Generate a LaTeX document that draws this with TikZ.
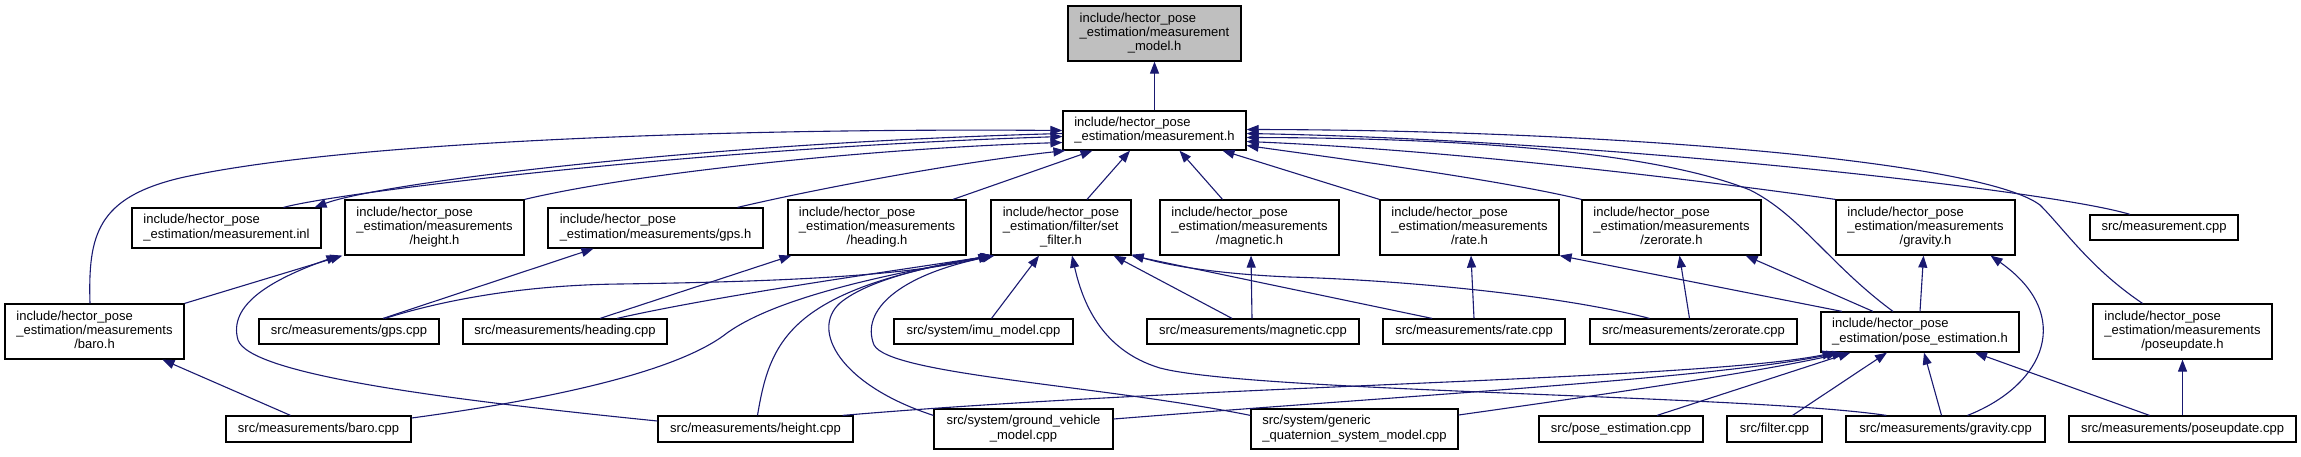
\documentclass[tikz,border=0pt]{standalone}
\usepackage{fontspec}
\setmainfont{Liberation Sans}
\usetikzlibrary{arrows.meta,calc}
\definecolor{edgeblue}{HTML}{191970}
\definecolor{boxgray}{HTML}{BFBFBF}
\newcommand{\hp}{include/hector\_pose}
\newcommand{\Lt}[2]{\begin{tabular}{@{}l@{}}#1\\#2\end{tabular}}
\newcommand{\Lc}[2]{\begin{tabular}{@{}l@{}}#1\\\multicolumn{1}{@{}c@{}}{#2}\end{tabular}}
\newcommand{\Llc}[3]{\begin{tabular}{@{}l@{}}#1\\#2\\\multicolumn{1}{@{}c@{}}{#3}\end{tabular}}
\begin{document}
\begin{tikzpicture}[x=1pt,y=-1pt,
  fbox/.style={draw=black,line width=1.2pt,inner sep=0pt,fill=white,font=\fontsize{13}{14.3}\selectfont},
  dep/.style={draw=edgeblue,line width=1.1pt,-{Triangle[length=12pt,width=9pt,fill=edgeblue]}}]
\useasboundingbox (0,0) rectangle (2301,456);
% row 1
\node[fbox,fill=boxgray,minimum width=173pt,minimum height=55pt] (model_h) at (1154.5,33.5) {\Llc{\hp}{\_estimation/measurement}{\_model.h}};
% row 2
\node[fbox,minimum width=183pt,minimum height=39pt] (meas_h) at (1154.5,130.5) {\Lt{\hp}{\_estimation/measurement.h}};
% row 3
\node[fbox,minimum width=189pt,minimum height=40pt] (inl) at (226.5,228) {\Lt{\hp}{\_estimation/measurement.inl}};
\node[fbox,minimum width=179pt,minimum height=55pt] (height_h) at (434.5,227.5) {\Llc{\hp}{\_estimation/measurements}{/height.h}};
\node[fbox,minimum width=215pt,minimum height=40pt] (gps_h) at (655.5,228) {\Lt{\hp}{\_estimation/measurements/gps.h}};
\node[fbox,minimum width=178pt,minimum height=55pt] (heading_h) at (877,227.5) {\Llc{\hp}{\_estimation/measurements}{/heading.h}};
\node[fbox,minimum width=140pt,minimum height=55pt] (setfilter) at (1061,227.5) {\Llc{\hp}{\_estimation/filter/set}{\_filter.h}};
\node[fbox,minimum width=179pt,minimum height=55pt] (magnetic_h) at (1249.5,227.5) {\Llc{\hp}{\_estimation/measurements}{/magnetic.h}};
\node[fbox,minimum width=179pt,minimum height=55pt] (rate_h) at (1469.5,227.5) {\Llc{\hp}{\_estimation/measurements}{/rate.h}};
\node[fbox,minimum width=179pt,minimum height=55pt] (zerorate_h) at (1671.5,227.5) {\Llc{\hp}{\_estimation/measurements}{/zerorate.h}};
\node[fbox,minimum width=179pt,minimum height=55pt] (gravity_h) at (1925.5,227.5) {\Llc{\hp}{\_estimation/measurements}{/gravity.h}};
\node[fbox,minimum width=148pt,minimum height=25pt] (meas_cpp) at (2164,227.5) {src/measurement.cpp};
% row 4
\node[fbox,minimum width=179pt,minimum height=55pt] (baro_h) at (94.5,331.5) {\Llc{\hp}{\_estimation/measurements}{/baro.h}};
\node[fbox,minimum width=180pt,minimum height=25pt] (gps_cpp) at (349,331.5) {src/measurements/gps.cpp};
\node[fbox,minimum width=204pt,minimum height=25pt] (heading_cpp) at (565,331.5) {src/measurements/heading.cpp};
\node[fbox,minimum width=179pt,minimum height=25pt] (imu_cpp) at (983.5,331.5) {src/system/imu\_model.cpp};
\node[fbox,minimum width=212pt,minimum height=25pt] (magnetic_cpp) at (1253,331.5) {src/measurements/magnetic.cpp};
\node[fbox,minimum width=182pt,minimum height=25pt] (rate_cpp) at (1474,331.5) {src/measurements/rate.cpp};
\node[fbox,minimum width=207pt,minimum height=25pt] (zerorate_cpp) at (1693.5,331.5) {src/measurements/zerorate.cpp};
\node[fbox,minimum width=198pt,minimum height=40pt] (pe_h) at (1920,332) {\Lt{\hp}{\_estimation/pose\_estimation.h}};
\node[fbox,minimum width=179pt,minimum height=55pt] (poseupdate_h) at (2182.5,331.5) {\Llc{\hp}{\_estimation/measurements}{/poseupdate.h}};
% row 5
\node[fbox,minimum width=185pt,minimum height=26pt] (baro_cpp) at (318.5,429) {src/measurements/baro.cpp};
\node[fbox,minimum width=195pt,minimum height=26pt] (height_cpp) at (755.5,429) {src/measurements/height.cpp};
\node[fbox,minimum width=179pt,minimum height=40pt] (gv_cpp) at (1023.5,429) {\Lc{src/system/ground\_vehicle}{\_model.cpp}};
\node[fbox,minimum width=207pt,minimum height=40pt] (gq_cpp) at (1354.5,429) {\Lt{src/system/generic}{\_quaternion\_system\_model.cpp}};
\node[fbox,minimum width=164pt,minimum height=26pt] (pe_cpp) at (1621,429) {src/pose\_estimation.cpp};
\node[fbox,minimum width=95pt,minimum height=26pt] (filter_cpp) at (1774.5,429) {src/filter.cpp};
\node[fbox,minimum width=199pt,minimum height=26pt] (gravity_cpp) at (1945.5,429) {src/measurements/gravity.cpp};
\node[fbox,minimum width=227pt,minimum height=26pt] (poseupdate_cpp) at (2182.5,429) {src/measurements/poseupdate.cpp};

% edges into measurement_model.h
\draw[dep] (meas_h.north) -- (model_h.south);
% edges into measurement.h
\draw[dep] ($(inl.north)+(57,0)$) .. controls (340,192) and (700,148) .. ($(meas_h.west)+(0,6)$);
\draw[dep] ($(meas_h.west)+(0,3)$) .. controls (700,143) and (380,183) .. ($(inl.north)+(88,0)$);
\draw[dep] ($(baro_h.north)+(-4.5,0)$) .. controls (88,235) and (97,198) .. (180,178) .. controls (350,140) and (750,128) .. (meas_h.west);
\draw[dep] (height_h.north east) .. controls (640,172) and (880,148) .. ($(meas_h.west)+(0,12)$);
\draw[dep] ($(gps_h.north)+(82,0)$) .. controls (820,188) and (960,162) .. ($(meas_h.south west)+(3,0)$);
\draw[dep] ($(heading_h.north)+(76,0)$) -- ($(meas_h.south)+(-62,0)$);
\draw[dep] ($(setfilter.north)+(26,0)$) -- ($(meas_h.south)+(-24.5,0)$);
\draw[dep] ($(magnetic_h.north)+(-27,0)$) -- ($(meas_h.south)+(25,0)$);
\draw[dep] (rate_h.north west) -- ($(meas_h.south)+(68,0)$);
\draw[dep] (zerorate_h.north west) .. controls (1500,180) and (1350,160) .. ($(meas_h.east)+(0,15)$);
\draw[dep] (gravity_h.north west) .. controls (1700,180) and (1450,150) .. ($(meas_h.east)+(0,11)$);
\draw[dep] ($(pe_h.north)+(-27,0)$) .. controls (1830,265) and (1800,215) .. (1750,190) .. controls (1650,150) and (1450,138) .. ($(meas_h.east)+(0,7)$);
\draw[dep] ($(meas_cpp.north)+(-34,0)$) .. controls (2050,190) and (1600,140) .. ($(meas_h.east)+(0,3)$);
\draw[dep] ($(poseupdate_h.north)+(-40,0)$) .. controls (2090,268) and (2065,230) .. (2040,205) .. controls (1980,160) and (1600,130) .. ($(meas_h.east)+(0,-1)$);
% baro / height / gps / heading
\draw[dep] ($(baro_cpp.north)+(-28,0)$) -- ($(baro_h.south)+(68,0)$);
\draw[dep] (baro_h.north east) -- ($(height_h.south west)+(-2,0)$);
\draw[dep] ($(height_cpp.west)+(0,-8)$) .. controls (450,400) and (250,375) .. (238,340) .. controls (228,305) and (270,280) .. ($(height_h.south west)+(-6,0)$);
\draw[dep] ($(gps_cpp.north)+(34,0)$) -- ($(gps_h.south)+(-62,0)$);
\draw[dep] ($(heading_cpp.north)+(35,0)$) -- ($(heading_h.south west)+(4,0)$);
% into set_filter.h
\draw[dep] ($(gps_cpp.north)+(36,0)$) .. controls (450,298) and (530,285) .. (620,284) .. controls (750,282) and (900,278) .. (setfilter.south west);
\draw[dep] ($(heading_cpp.north)+(52,0)$) .. controls (720,295) and (900,270) .. ($(setfilter.south west)+(2,0)$);
\draw[dep] ($(baro_cpp.east)+(0,-11)$) .. controls (560,398) and (680,370) .. (727,333) .. controls (780,295) and (900,272) .. ($(setfilter.south west)+(3,0)$);
\draw[dep] ($(height_cpp.north)+(2,0)$) .. controls (770,340) and (790,290) .. ($(setfilter.south west)+(2,0)$);
\draw[dep] ($(gv_cpp.north west)+(0,7)$) .. controls (840,385) and (810,330) .. (840,303) .. controls (870,278) and (940,264) .. ($(setfilter.south west)+(3,0)$);
\draw[dep] ($(gq_cpp.north west)+(0,7)$) .. controls (1100,385) and (890,375) .. (874,345) .. controls (860,310) and (900,275) .. ($(setfilter.south west)+(4,0)$);
\draw[dep] ($(imu_cpp.north)+(8,0)$) -- ($(setfilter.south)+(-22,0)$);
\draw[dep] ($(magnetic_cpp.north)+(-21,0)$) -- ($(setfilter.south east)+(-18,0)$);
\draw[dep] ($(rate_cpp.north)+(-42,0)$) -- (setfilter.south east);
\draw[dep] ($(zerorate_cpp.north)+(-44,0)$) .. controls (1560,295) and (1400,280) .. (1290,277) .. controls (1220,274) and (1170,266) .. ($(setfilter.south east)+(0,-1)$);
\draw[dep] ($(gravity_cpp.north west)+(41,0)$) .. controls (1750,395) and (1250,392) .. (1160,368) .. controls (1100,350) and (1082,300) .. ($(setfilter.south)+(11,0)$);
% magnetic / rate / zerorate / gravity
\draw[dep] ($(magnetic_cpp.north)+(-1,0)$) -- ($(magnetic_h.south)+(1.5,0)$);
\draw[dep] (rate_cpp.north) -- ($(rate_h.south)+(1.5,0)$);
\draw[dep] ($(zerorate_cpp.north)+(-4,0)$) -- ($(zerorate_h.south)+(8,0)$);
\draw[dep] ($(pe_h.north)+(-78,0)$) -- (rate_h.south east);
\draw[dep] ($(pe_h.north)+(-47,0)$) -- ($(zerorate_h.south east)+(-16,0)$);
\draw[dep] (pe_h.north) -- ($(gravity_h.south)+(-2,0)$);
\draw[dep] ($(gravity_cpp.north)+(22,0)$) .. controls (2045,385) and (2075,315) .. ($(gravity_h.south east)+(-25,0)$);
% into pose_estimation.h
\draw[dep] ($(height_cpp.north east)+(-11,0)$) .. controls (1200,385) and (1700,380) .. ($(pe_h.south west)+(14,0)$);
\draw[dep] ($(gv_cpp.east)+(0,-10)$) .. controls (1400,396) and (1720,378) .. ($(pe_h.south west)+(18,0)$);
\draw[dep] ($(gq_cpp.east)+(0,-14)$) .. controls (1600,395) and (1760,372) .. ($(pe_h.south west)+(24,0)$);
\draw[dep] ($(pe_cpp.north)+(36,0)$) -- ($(pe_h.south west)+(30,0)$);
\draw[dep] ($(filter_cpp.north)+(18,0)$) -- ($(pe_h.south)+(-33,0)$);
\draw[dep] ($(gravity_cpp.north)+(-4,0)$) -- ($(pe_h.south)+(4,0)$);
\draw[dep] ($(poseupdate_cpp.north)+(-33,0)$) -- ($(pe_h.south)+(55,0)$);
\draw[dep] (poseupdate_cpp.north) -- (poseupdate_h.south);
\end{tikzpicture}
\end{document}
